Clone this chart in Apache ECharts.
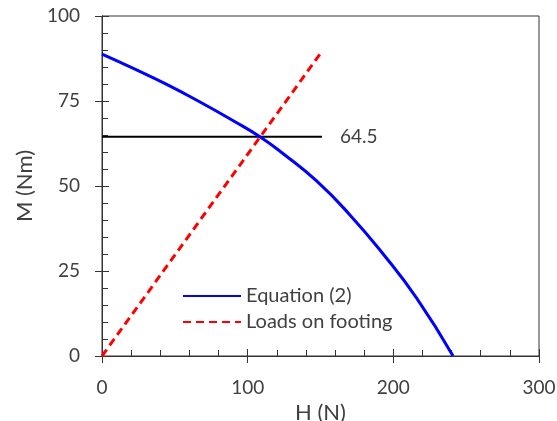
<!DOCTYPE html>
<html>
<head>
    <meta charset="utf-8">
    <title>ECharts</title>
    <script src="https://cdn.jsdelivr.net/npm/echarts@6/dist/echarts.min.js"></script>
</head>
<body>
<style>
    html, body, #main {
        width: 100%;
        padding: 0;
        margin: 0;
        height: 100%;
    }
</style>
<div id="main"></div>
<script type="text/javascript">
    // Equation (2) curve
    var eqH = [0, 21.5, 44.4, 67.3, 90.1, 108.4, 124.4, 147.3, 170.2, 193, 216, 241];
    var eqM = [88.8, 84.6, 79.9, 74.7, 69.2, 64.5, 59.5, 51.5, 41.5, 30.0, 17.0, 0];
    // loads on footing (straight line)
    var loadH = [0, 150];
    var loadM = [0, 89];
    // horizontal reference level
    var refH = [0, 151];
    var refM = 64.5;

    var font = 'Lato';
    var txt = '#404040';

    function pairs(xs, ys) {
        return xs.map(function (x, i) { return [x, Array.isArray(ys) ? ys[i] : ys]; });
    }

    var myChart = echarts.init(document.getElementById('main'));

    var xBase = {
        type: 'value', min: 0, max: 300, interval: 100,
        splitLine: {show: false},
        axisLine: {lineStyle: {color: '#333', width: 1}}
    };
    var yBase = {
        type: 'value', min: 0, max: 100, interval: 25,
        splitLine: {show: false},
        axisLine: {lineStyle: {color: '#333', width: 1}}
    };

    myChart.setOption({
        animation: false,
        textStyle: {fontFamily: font},
        grid: {
            left: 102, right: 18, top: 16, bottom: 65,
            outerBoundsMode: 'none', containLabel: false,
            show: true, borderColor: '#333', borderWidth: 1
        },
        legend: {
            orient: 'vertical',
            left: 177, top: 281,
            itemWidth: 58, itemHeight: 14, itemGap: 6,
            itemStyle: {opacity: 0},
            textStyle: {fontFamily: font, fontSize: 20, color: txt},
            data: ['Equation (2)', 'Loads on footing']
        },
        xAxis: [
            echarts.util.merge({
                name: 'H (N)', nameLocation: 'middle', nameGap: 42,
                nameTextStyle: {fontFamily: font, fontSize: 22, color: txt},
                axisTick: {show: true, inside: false, length: 7, lineStyle: {color: '#333'}},
                axisLabel: {margin: 22, fontSize: 19, color: txt}
            }, xBase, true),
            echarts.util.merge({
                position: 'bottom',
                axisTick: {show: true, inside: true, length: 7, lineStyle: {color: '#333'}},
                minorTick: {show: true, splitNumber: 5, length: 6, lineStyle: {color: '#333'}},
                axisLabel: {show: false}
            }, xBase, true)
        ],
        yAxis: [
            echarts.util.merge({
                name: 'M (Nm)', nameLocation: 'middle', nameGap: 64,
                nameTextStyle: {fontFamily: font, fontSize: 22, color: txt},
                axisTick: {show: true, inside: false, length: 7, lineStyle: {color: '#333'}},
                axisLabel: {margin: 22, fontSize: 19, color: txt}
            }, yBase, true),
            echarts.util.merge({
                position: 'left',
                axisTick: {show: true, inside: true, length: 7, lineStyle: {color: '#333'}},
                minorTick: {show: true, splitNumber: 5, length: 6, lineStyle: {color: '#333'}},
                axisLabel: {show: false}
            }, yBase, true)
        ],
        series: [
            {
                name: 'Equation (2)', type: 'line',
                data: pairs(eqH, eqM),
                smooth: 0.5, symbol: 'none',
                lineStyle: {color: '#0000ff', width: 3},
                itemStyle: {color: '#0000ff'},
                z: 3
            },
            {
                name: 'Loads on footing', type: 'line',
                data: pairs(loadH, loadM),
                symbol: 'none',
                lineStyle: {color: '#ff0000', width: 3, type: [8, 5]},
                itemStyle: {color: '#ff0000'},
                z: 4
            },
            {
                name: 'ref', type: 'line',
                data: pairs(refH, refM),
                symbol: 'none',
                lineStyle: {color: '#000', width: 2},
                endLabel: {
                    show: true, formatter: String(refM), distance: 18,
                    fontFamily: font, fontSize: 19, color: txt
                },
                z: 2
            }
        ]
    });

    window.onresize = function () {
        myChart.resize();
    };
</script>
</body>
</html>
